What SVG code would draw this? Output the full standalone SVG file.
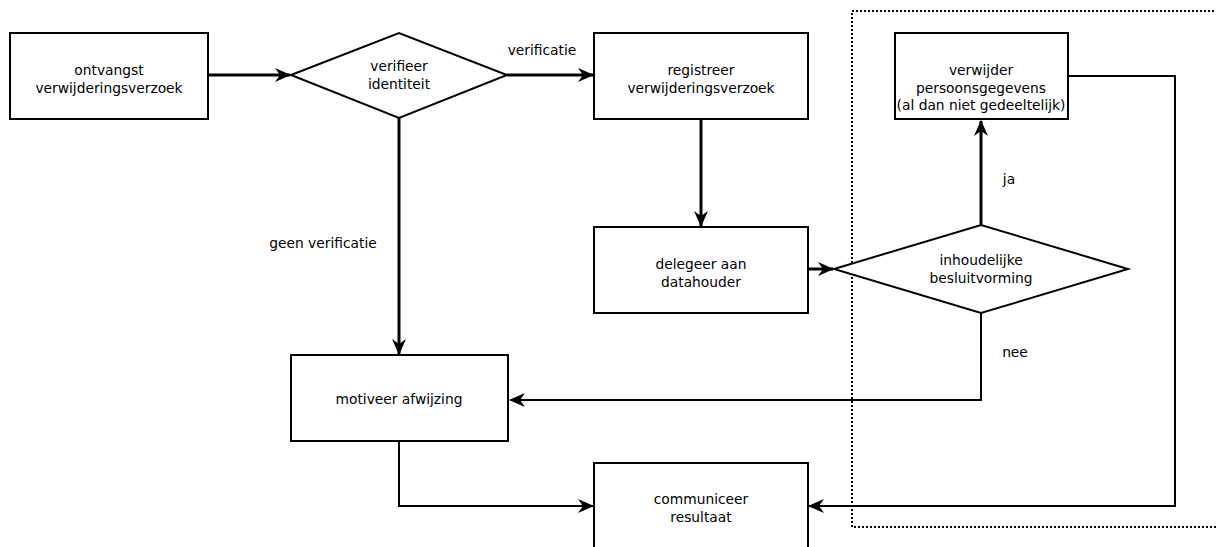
<svg xmlns="http://www.w3.org/2000/svg" width="1216" height="547" viewBox="0 0 1216 547">
<style>
.box{fill:#fff;stroke:#000;stroke-width:2}
.t{font-family:"DejaVu Sans",sans-serif;font-size:13.8px;fill:#000;text-anchor:middle}
.thick{fill:none;stroke:#000;stroke-width:3}
.thin{fill:none;stroke:#000;stroke-width:2}
</style>
<defs>
<marker id="ah" viewBox="0 0 16 14" refX="15" refY="7" markerWidth="16" markerHeight="14" markerUnits="userSpaceOnUse" orient="auto">
<path d="M0,0 L16,7 L0,14 L5,7 z" fill="#000"/>
</marker>
</defs>
<rect x="852" y="11" width="370" height="516" fill="none" stroke="#000" stroke-width="2" stroke-dasharray="2,2"/>
<g id="connectors">
<line class="thick" x1="208" y1="75" x2="290" y2="75" marker-end="url(#ah)"/>
<line class="thick" x1="507" y1="75" x2="593" y2="75" marker-end="url(#ah)"/>
<text class="t" x="542" y="55">verificatie</text>
<line class="thick" x1="701" y1="119" x2="701" y2="226" marker-end="url(#ah)"/>
<line class="thick" x1="808" y1="269" x2="833" y2="269" marker-end="url(#ah)"/>
<line class="thick" x1="981" y1="225" x2="981" y2="121" marker-end="url(#ah)"/>
<text class="t" x="1009" y="184">ja</text>
<line class="thick" x1="399" y1="118" x2="399" y2="354" marker-end="url(#ah)"/>
<text class="t" x="323" y="248">geen verificatie</text>
<polyline class="thin" points="981,313 981,400 510,400" marker-end="url(#ah)"/>
<text class="t" x="1015" y="357">nee</text>
<polyline class="thin" points="399,441 399,506 593,506" marker-end="url(#ah)"/>
<polyline class="thin" points="1068,76 1175,76 1175,506 809,506" marker-end="url(#ah)"/>
</g>
<g id="n1"><rect class="box" x="10" y="33" width="198" height="86"/><text class="t" x="109" y="75">ontvangst</text><text class="t" x="109" y="93">verwijderingsverzoek</text></g>
<g id="n2"><polygon class="box" points="291,75 399,33 507,75 399,118"/><text class="t" x="399" y="71">verifieer</text><text class="t" x="399" y="89">identiteit</text></g>
<g id="n3"><rect class="box" x="594" y="33" width="214" height="86"/><text class="t" x="701" y="75">registreer</text><text class="t" x="701" y="93">verwijderingsverzoek</text></g>
<g id="n4"><rect class="box" x="594" y="227" width="214" height="86"/><text class="t" x="701" y="269">delegeer aan</text><text class="t" x="701" y="287">datahouder</text></g>
<g id="n5"><polygon class="box" points="834,269 981,225 1128,269 981,313"/><text class="t" x="981" y="265">inhoudelijke</text><text class="t" x="981" y="283">besluitvorming</text></g>
<g id="n6"><rect class="box" x="895" y="33" width="173" height="86"/><text class="t" x="981" y="75">verwijder</text><text class="t" x="981" y="93">persoonsgegevens</text><text class="t" x="981" y="110">(al dan niet gedeeltelijk)</text></g>
<g id="n7"><rect class="box" x="291" y="355" width="217" height="86"/><text class="t" x="399" y="404">motiveer afwijzing</text></g>
<g id="n8"><rect class="box" x="594" y="463" width="214" height="90"/><text class="t" x="701" y="504">communiceer</text><text class="t" x="701" y="522">resultaat</text></g>
</svg>
